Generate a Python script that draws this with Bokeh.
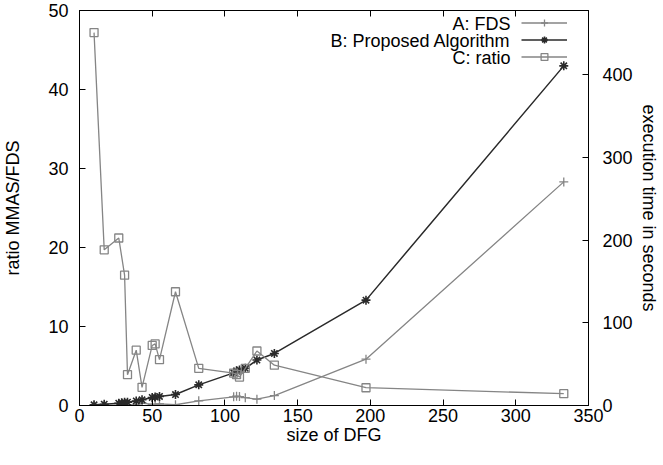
from bokeh.plotting import figure
from bokeh.models import (Range1d, LinearAxis, SingleIntervalTicker, FixedTicker, Legend, LegendItem, Label)
from bokeh.embed import file_html
from bokeh.resources import INLINE

# ---------------- data ----------------
x_ab = [10, 17, 27, 29, 31, 33, 39, 43, 50, 52, 55, 66, 82, 106, 108, 110, 114, 122, 134, 197, 333]
fds_sec = [0.02, 0.08, 0.13, 0.2, 0.23, 1.0, 0.8, 3.0, 1.3, 1.3, 1.9, 0.9, 5.6, 10.5, 11.2, 10.8, 9.5, 7.6, 12.0, 56.0, 270.6]
prop_sec = [0.8, 1.6, 2.8, 3.4, 3.8, 4.0, 5.5, 6.9, 9.7, 10.3, 11.0, 13.3, 25.0, 39.5, 42.0, 43.0, 45.0, 55.0, 63.0, 127.5, 411.0]
x_c = [10, 17, 27, 31, 33, 39, 43, 50, 52, 55, 66, 82, 106, 108, 110, 114, 122, 134, 197, 333]
ratio = [47.2, 19.7, 21.2, 16.5, 3.9, 7.0, 2.3, 7.6, 7.8, 5.8, 14.4, 4.7, 4.1, 3.9, 3.6, 4.7, 6.9, 5.1, 2.25, 1.5]
x_ticks = [0, 50, 100, 150, 200, 250, 300, 350]
legend_labels = ["A: FDS", "B: Proposed Algorithm", "C: ratio"]

FONT = "Liberation Sans"
FS = "18px"
GRAY = "#858585"
DARK = "#2a2a2a"

p = figure(frame_width=509, frame_height=395, x_range=Range1d(0, 350), y_range=Range1d(0, 50),
           output_backend="svg", toolbar_location=None,
           min_border_left=72, min_border_right=66, min_border_top=10, min_border_bottom=40)
p.extra_y_ranges = {"sec": Range1d(0, 478)}
p.xgrid.visible = False
p.ygrid.visible = False
p.outline_line_color = "black"
p.outline_line_width = 1
p.outline_line_alpha = 1

def style_axis(ax):
    ax.major_tick_in = 6
    ax.major_tick_out = 0
    ax.minor_tick_line_color = None
    ax.axis_line_color = "black"
    ax.major_tick_line_color = "black"
    ax.major_label_text_font = FONT
    ax.major_label_text_font_size = FS
    ax.major_label_text_color = "black"
    ax.axis_label_text_font = FONT
    ax.axis_label_text_font_size = FS
    ax.axis_label_text_font_style = "normal"
    ax.axis_label_text_color = "black"

xa = p.xaxis[0]
xa.ticker = FixedTicker(ticks=x_ticks)
xa.axis_label = "size of DFG"
style_axis(xa)
xa.major_label_standoff = 3
xa.axis_label_standoff = 0

ya = p.yaxis[0]
ya.ticker = SingleIntervalTicker(interval=10)
ya.axis_label = "ratio MMAS/FDS"
style_axis(ya)
ya.major_label_standoff = 7
ya.axis_label_standoff = 22

ra = LinearAxis(y_range_name="sec", ticker=SingleIntervalTicker(interval=100),
                axis_label="execution time in seconds")
style_axis(ra)
ra.major_label_standoff = 10
ra.axis_label_standoff = 3
p.add_layout(ra, "right")

# top border ticks (mirrored x ticks, no labels) drawn as minor ticks
ta = LinearAxis(ticker=FixedTicker(ticks=[], minor_ticks=x_ticks))
style_axis(ta)
ta.major_tick_line_color = None
ta.minor_tick_line_color = "black"
ta.minor_tick_in = 6
ta.minor_tick_out = 0
ta.major_label_standoff = 0
p.add_layout(ta, "above")

la = p.line(x_ab, fds_sec, y_range_name="sec", line_color=GRAY, line_width=1.3)
sa = p.scatter(x_ab, fds_sec, y_range_name="sec", marker="cross", size=9, line_color=GRAY, line_width=1.3)
lb = p.line(x_ab, prop_sec, y_range_name="sec", line_color=DARK, line_width=1.5)
sb = p.scatter(x_ab, prop_sec, y_range_name="sec", marker="asterisk", size=9, line_color=DARK, line_width=1.6)
lc = p.line(x_c, ratio, line_color=GRAY, line_width=1.3)
sc = p.scatter(x_c, ratio, marker="square", size=8, line_color=GRAY, fill_color=None, line_width=1.3)

legend = Legend(items=[LegendItem(label=" ", renderers=[la, sa]),
                       LegendItem(label=" ", renderers=[lb, sb]),
                       LegendItem(label=" ", renderers=[lc, sc])],
                location=(442, 340), glyph_width=46, glyph_height=17, label_width=0,
                label_standoff=0, padding=0, spacing=0, margin=0,
                border_line_color=None, background_fill_alpha=0, label_text_font_size="1px")
p.add_layout(legend)

for i, t in enumerate(legend_labels):
    p.add_layout(Label(x=431, y=382 - 17 * i, x_units="screen", y_units="screen", text=t,
                       text_align="right", text_baseline="middle", text_font=FONT,
                       text_font_size=FS, text_color="black"))

open("out.html", "w").write(file_html(p, INLINE))
